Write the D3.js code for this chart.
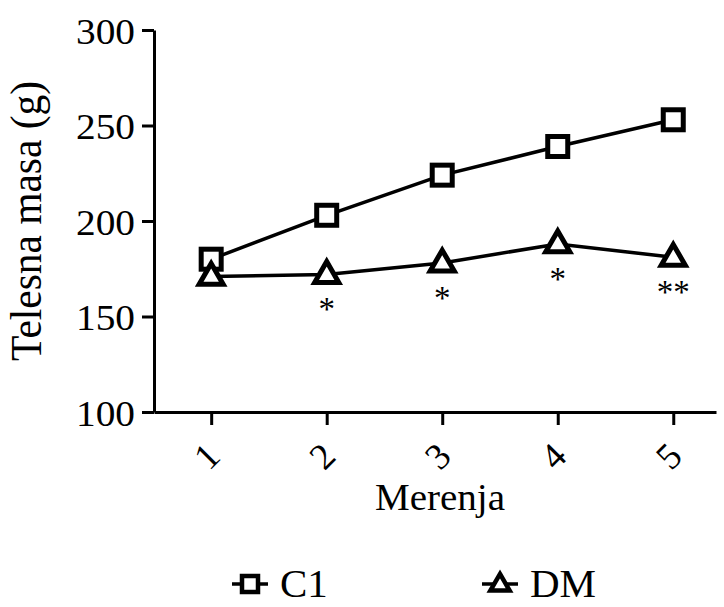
<!DOCTYPE html>
<html>
<head>
<meta charset="utf-8">
<script src="https://cdn.jsdelivr.net/npm/d3@7"></script>
<style>
  body { margin: 0; background: #fff; }
  text { font-family: "Liberation Serif", "Times New Roman", serif; fill: #000; }
  .axis path, .axis line { stroke: #000; stroke-width: 3; }
  .line { fill: none; stroke: #000; stroke-width: 3.5; }
</style>
</head>
<body>
<svg id="chart" width="724" height="607"></svg>
<script>
// values
let merenja = [1, 2, 3, 4, 5]
let c1 = [180, 203, 224, 239, 253]
let dm = [171, 172, 178, 188, 181]
let stars = ["", "*", "*", "*", "**"]
let yTicks = [100, 150, 200, 250, 300]

let svg = d3.select("#chart")
let margin = {top: 30, left: 154}
let w = 562
let h = 382

let xScale = d3.scaleLinear().domain([0.505, 5.37]).range([0, w])
let yScale = d3.scaleLinear().domain([100, 300]).range([h, 0])

let g = svg.append("g").attr("transform", "translate(" + margin.left + "," + margin.top + ")")

// y axis
let yAxis = g.append("g")
    .attr("class", "axis")
    .call(d3.axisLeft(yScale).tickValues(yTicks).tickSize(12).tickSizeOuter(0))
yAxis.selectAll("text")
    .style("font-size", "35px")
    .attr("x", -19)
    .attr("dy", "0.38em")
    .attr("textLength", 59)
    .attr("lengthAdjust", "spacingAndGlyphs")

// x axis
let xAxis = g.append("g")
    .attr("class", "axis")
    .attr("transform", "translate(0," + h + ")")
    .call(d3.axisBottom(xScale).tickValues(merenja).tickSize(13).tickSizeOuter(0).tickFormat(d3.format("d")))
xAxis.selectAll(".tick text")
    .style("font-size", "37px")
    .attr("text-anchor", "middle")
    .attr("dominant-baseline", "central")
    .attr("x", -5).attr("y", 44).attr("dy", null)
    .attr("transform", "rotate(-45,-5,44)")

// lines
let path = series => d3.line()
    .x((d, i) => xScale(merenja[i]))
    .y(d => yScale(d))(series)

g.append("path").attr("class", "line").attr("d", path(c1))
g.append("path").attr("class", "line").attr("d", path(dm))

// markers
let sq = 20
g.selectAll(".sq").data(c1).enter().append("rect")
    .attr("x", (d, i) => xScale(merenja[i]) - sq / 2)
    .attr("y", d => yScale(d) - sq / 2)
    .attr("width", sq).attr("height", sq)
    .attr("fill", "#fff").attr("stroke", "#000").attr("stroke-width", 5)

let tri = d3.symbol().type(d3.symbolTriangle).size(250)
g.selectAll(".tri").data(dm).enter().append("path")
    .attr("d", tri)
    .attr("transform", (d, i) => "translate(" + xScale(merenja[i]) + "," + (yScale(d) + 1) + ")")
    .attr("fill", "#fff").attr("stroke", "#000").attr("stroke-width", 5)
    .attr("stroke-linejoin", "miter")

// significance marks
g.selectAll(".star").data(dm).enter().append("text")
    .attr("x", (d, i) => xScale(merenja[i]))
    .attr("y", d => yScale(d) + 46)
    .attr("text-anchor", "middle")
    .style("font-size", "33px")
    .text((d, i) => stars[i])

// axis titles
svg.append("text")
    .attr("transform", "translate(41,221) scale(1.1,1) rotate(-90)")
    .attr("text-anchor", "middle")
    .attr("textLength", 280)
    .attr("lengthAdjust", "spacingAndGlyphs")
    .style("font-size", "41px")
    .text("Telesna masa (g)")

svg.append("text")
    .attr("x", 440).attr("y", 510)
    .attr("text-anchor", "middle")
    .attr("textLength", 130)
    .attr("lengthAdjust", "spacingAndGlyphs")
    .style("font-size", "37px")
    .text("Merenja")

// legend
let legend = svg.append("g").attr("transform", "translate(0,584)")
let items = [{name: "C1", x: 250, shape: "sq"}, {name: "DM", x: 500, shape: "tri"}]
items.forEach(it => {
    let lg = legend.append("g").attr("transform", "translate(" + it.x + ",0)")
    lg.append("line").attr("x1", -18).attr("x2", 18).attr("stroke", "#000").attr("stroke-width", 3.5)
    if (it.shape == "sq") {
        lg.append("rect").attr("x", -8).attr("y", -8).attr("width", 16).attr("height", 16)
            .attr("fill", "#fff").attr("stroke", "#000").attr("stroke-width", 4.5)
    } else {
        lg.append("path").attr("d", d3.symbol().type(d3.symbolTriangle).size(160)).attr("transform", "translate(0,1)")
            .attr("fill", "#fff").attr("stroke", "#000").attr("stroke-width", 4.5)
    }
    lg.append("text").attr("x", 30).attr("y", 13).style("font-size", "41px").text(it.name)
})
</script>
</body>
</html>
